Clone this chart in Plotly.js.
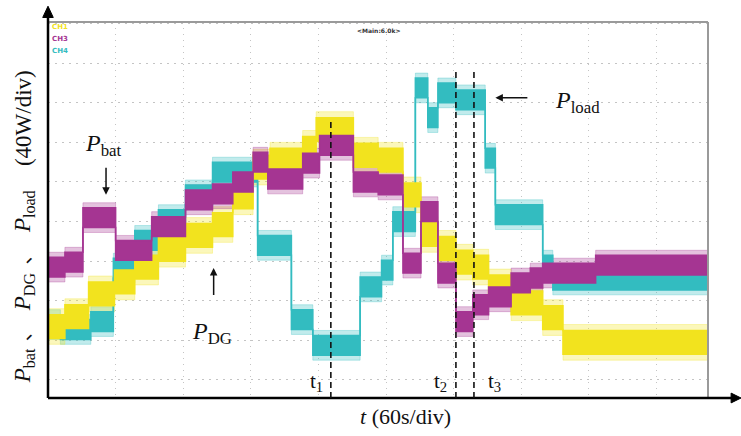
<!DOCTYPE html>
<html>
<head>
<meta charset="utf-8">
<script src="https://cdn.plot.ly/plotly-3.0.1.min.js"></script>
<style>html,body{margin:0;padding:0;background:#fff;}#chart{width:741px;height:436px;}</style>
</head>
<body>
<div id="chart"></div>
<script>
// time in seconds (60 s/div), power in W (40 W/div, relative scope offset)
const pbatT  = [0, 15, 31, 60, 92, 122, 146, 164, 182, 195, 226, 241, 271, 293, 315, 331, 346, 362, 377, 391, 411, 428, 439, 486, 586];
const pbatP  = [114, 119, 164, 131, 155, 182, 188, 200, 220, 203, 219, 237, 200, 197, 118, 170, 108, 59, 76, 84, 98, 103, 108, 116, 118];
const pdgT   = [0, 15, 36, 59, 77, 98, 122, 146, 164, 182, 197, 226, 238, 271, 293, 315, 331, 346, 362, 377, 391, 411, 439, 457, 586];
const pdgP   = [54, 64, 87, 99, 114, 132, 146, 157, 185, 215, 222, 234, 253, 227, 222, 187, 147, 133, 119, 114, 94, 78, 63, 38, 38];
const ploadT = [0, 11, 38, 58, 77, 98, 122, 146, 186, 216, 235, 277, 296, 306, 326, 337, 346, 362, 388, 397, 439, 448, 586];
const ploadP = [56, 51, 59, 113, 141, 162, 187, 210, 136, 61, 35, 94, 111, 160, 295, 265, 290, 283, 224, 167, 116, 101, 100];

const eventTimes  = [251, 362, 378];
const eventTops   = [262, 311, 311];
const eventLabels = ['t<sub>1</sub>', 't<sub>2</sub>', 't<sub>3</sub>'];
const eventLabelX = [238, 348, 396];

const channelNames = ['CH1', 'CH3', 'CH4'];
const colYellow = '#f2e31e', colMagenta = '#a53592', colCyan = '#33bcc0';
const channelColors = [colYellow, colMagenta, colCyan];

const X_MAX = 585.7, Y_MIN = -18.2, Y_MAX = 361.6;
const serif = 'Liberation Serif, Times New Roman, serif';
const cjk = 'Liberation Serif, Noto Sans CJK SC, serif';

function rgba(hex, a) {
  const n = parseInt(hex.slice(1), 16);
  return 'rgba(' + ((n >> 16) & 255) + ',' + ((n >> 8) & 255) + ',' + (n & 255) + ',' + a + ')';
}
// noise band: filled region between lower and upper envelope of the step signal
function bandPair(x, y, color, half, alpha, lw) {
  const lo = y.map(v => v - half), hi = y.map(v => v + half);
  const base = {x: x, type: 'scatter', mode: 'lines', hoverinfo: 'skip', showlegend: false};
  return [
    Object.assign({}, base, {y: lo, line: {shape: 'hv', color: rgba(color, alpha), width: lw}}),
    Object.assign({}, base, {y: hi, fill: 'tonexty', fillcolor: rgba(color, alpha), line: {shape: 'hv', color: rgba(color, alpha), width: lw}})
  ];
}

const data = [].concat(
  bandPair(ploadT, ploadP, colCyan, 15, 0.3, 1),
  bandPair(pdgT, pdgP, colYellow, 18, 0.3, 1),
  bandPair(pbatT, pbatP, colMagenta, 15, 0.3, 1),
  bandPair(ploadT, ploadP, colCyan, 10, 1, 1.5),
  bandPair(pdgT, pdgP, colYellow, 12, 1, 1.5),
  bandPair(pbatT, pbatP, colMagenta, 10, 1, 1.5)
);

const shapes = [];
shapes.push({type: 'line', xref: 'paper', yref: 'paper', x0: 0, x1: 1, y0: 1, y1: 1, line: {color: '#9a9a9a', width: 2}});
shapes.push({type: 'line', xref: 'paper', yref: 'paper', x0: 1, x1: 1, y0: 0, y1: 1, line: {color: '#9a9a9a', width: 2}});
shapes.push({type: 'line', xref: 'paper', yref: 'paper', x0: 0, x1: 0, y0: 0, y1: 1.02, line: {color: '#000', width: 2.5}});
shapes.push({type: 'path', xref: 'paper', yref: 'paper', path: 'M -0.008 1.012 L 0 1.042 L 0.008 1.012 Z', fillcolor: '#000', line: {color: '#000', width: 1}});
shapes.push({type: 'line', xref: 'paper', yref: 'paper', x0: 0, x1: 1.04, y0: 0, y1: 0, line: {color: '#000', width: 2.5}});
shapes.push({type: 'path', xref: 'paper', yref: 'paper', path: 'M 1.035 0.013 L 1.05 0 L 1.035 -0.013 Z', fillcolor: '#000', line: {color: '#000', width: 1}});
eventTimes.forEach((t, i) => {
  shapes.push({type: 'line', xref: 'x', yref: 'y', x0: t, x1: t, y0: Y_MIN, y1: eventTops[i], line: {color: '#111', width: 1.6, dash: '6px,4px'}});
});

const annotations = [];
const labelFont = {family: serif, size: 24, color: '#111'};
annotations.push({x: 31, y: 237, xref: 'x', yref: 'y', text: '<i>P</i><sub>bat</sub>', showarrow: false, xanchor: 'left', yanchor: 'middle', font: labelFont});
annotations.push({x: 126, y: 47, xref: 'x', yref: 'y', text: '<i>P</i><sub>DG</sub>', showarrow: false, xanchor: 'left', yanchor: 'middle', font: labelFont});
annotations.push({x: 448, y: 281, xref: 'x', yref: 'y', text: '<i>P</i><sub>load</sub>', showarrow: false, xanchor: 'left', yanchor: 'middle', font: labelFont});
annotations.push({x: 51.5, y: 187, xref: 'x', yref: 'y', text: ' ', showarrow: true, ax: 0, ay: -37, arrowhead: 2, arrowsize: 1, arrowwidth: 1.5, arrowcolor: '#111'});
annotations.push({x: 147, y: 113, xref: 'x', yref: 'y', text: ' ', showarrow: true, ax: 0, ay: 37, arrowhead: 2, arrowsize: 1, arrowwidth: 1.5, arrowcolor: '#111'});
annotations.push({x: 397, y: 285, xref: 'x', yref: 'y', text: ' ', showarrow: true, ax: 35, ay: 0, arrowhead: 2, arrowsize: 1, arrowwidth: 1.5, arrowcolor: '#111'});
eventLabels.forEach((s, i) => {
  annotations.push({x: eventLabelX[i], y: -2, xref: 'x', yref: 'y', text: s, showarrow: false, xanchor: 'center', yanchor: 'middle', font: {family: serif, size: 21, color: '#111'}});
});
channelNames.forEach((s, i) => {
  annotations.push({x: 0.003, y: 0.988 - i * 0.033, xref: 'paper', yref: 'paper', text: '<b>' + s + '</b>', showarrow: false, xanchor: 'left', yanchor: 'middle', font: {family: 'DejaVu Sans', size: 7, color: channelColors[i]}});
});
annotations.push({x: 0.5, y: 0.978, xref: 'paper', yref: 'paper', text: '<b>&lt;Main:6.0k&gt;</b>', showarrow: false, xanchor: 'center', yanchor: 'middle', font: {family: 'DejaVu Sans', size: 6, color: '#333'}});
annotations.push({x: 0.541, y: -0.05, xref: 'paper', yref: 'paper', text: '<i>t</i> (60s/div)', showarrow: false, xanchor: 'center', yanchor: 'middle', font: {family: serif, size: 22, color: '#111'}});

// y-axis title pieces (rotated), positions in paper fraction of plot height
const yTitleParts = ['<i>P</i><sub>bat</sub>', '、', '<i>P</i><sub>DG</sub>', '、', '<i>P</i><sub>load</sub>', '(40W/div)'];
const yTitlePos   = [0.085, 0.178, 0.282, 0.382, 0.495, 0.745];
yTitleParts.forEach((s, i) => {
  annotations.push({x: -0.036, y: yTitlePos[i], xref: 'paper', yref: 'paper', text: s, textangle: -90, showarrow: false,
                    xanchor: 'center', yanchor: 'middle', font: {family: cjk, size: s === '、' ? 20 : 23, color: '#111'}});
});

const layout = {
  width: 741, height: 436,
  margin: {l: 48, r: 33, t: 22, b: 38, pad: 0},
  paper_bgcolor: '#fff', plot_bgcolor: '#fff',
  showlegend: false,
  xaxis: {range: [0, X_MAX], tick0: 0, dtick: 60, showgrid: true, gridcolor: '#c4c4c4', gridwidth: 1, griddash: '1px,5px',
          showticklabels: false, ticks: '', zeroline: false, showline: false, fixedrange: true},
  yaxis: {range: [Y_MIN, Y_MAX], tick0: 0, dtick: 40, showgrid: true, gridcolor: '#c4c4c4', gridwidth: 1, griddash: '2px,5px',
          showticklabels: false, ticks: '', zeroline: false, showline: false, fixedrange: true},
  shapes: shapes,
  annotations: annotations
};

Plotly.newPlot('chart', data, layout, {displayModeBar: false, staticPlot: true});
</script>
</body>
</html>
